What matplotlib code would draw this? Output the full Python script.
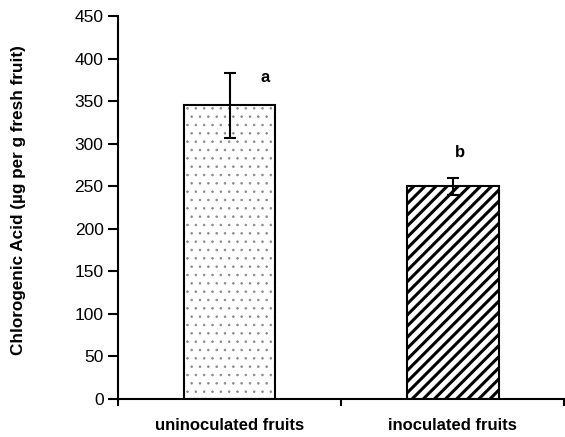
import numpy as np
import matplotlib.pyplot as plt

plt.rcParams['font.family'] = ['Liberation Sans', 'DejaVu Sans']

categories = ['uninoculated fruits', 'inoculated fruits']
values = [345, 250]
errors = [38, 10]
letters = ['a', 'b']
letter_y = [378, 290]

fig = plt.figure(figsize=[5.65, 4.37], dpi=100)
ax = fig.add_axes([0.209, 0.087, 0.79, 0.876])

x = np.array([0.5, 1.5])
w = 0.41

# relleno: puntos grises / rayas negras
plt.rcParams['hatch.linewidth'] = 0.6
ax.bar(x[0], values[0], width=w, color='white', edgecolor='#8a8a8a',
       hatch='..', linewidth=0)
plt.rcParams['hatch.linewidth'] = 2.2
ax.bar(x[1], values[1], width=w, color='white', edgecolor='black',
       hatch='///', linewidth=0)
# contorno
ax.bar(x, values, width=w, fill=False, edgecolor='black', linewidth=1.5)

ax.errorbar(x, values, yerr=errors, fmt='none', ecolor='black',
            elinewidth=1.5, capsize=4.5, capthick=1.5)

for xi, yi, t in zip([0.66, 1.53], letter_y, letters):
    ax.text(xi, yi, t, fontsize=12, fontweight='bold', ha='center', va='center')

ax.set_xlim(0, 2)
ax.set_ylim(0, 450)
ax.set_yticks(np.arange(0, 451, 50))
ax.set_xticks([0, 1, 2])
ax.set_xticklabels([])
ax.set_xticks(x, minor=True)
ax.set_xticklabels(categories, minor=True, fontsize=12, fontweight='bold')
ax.tick_params(axis='x', which='minor', length=0, pad=14)
ax.tick_params(axis='x', which='major', length=5, width=1.5)
ax.tick_params(axis='y', length=7, width=1.5, labelsize=12.5)

ax.spines['top'].set_visible(False)
ax.spines['right'].set_visible(False)
ax.spines['left'].set_linewidth(1.5)
ax.spines['bottom'].set_linewidth(1.5)

ax.set_ylabel('Chlorogenic Acid (µg per g fresh fruit)', fontsize=12.3,
              fontweight='bold')
ax.yaxis.set_label_coords(-0.207, 0.52)

fig.savefig('out.png', dpi=100)
